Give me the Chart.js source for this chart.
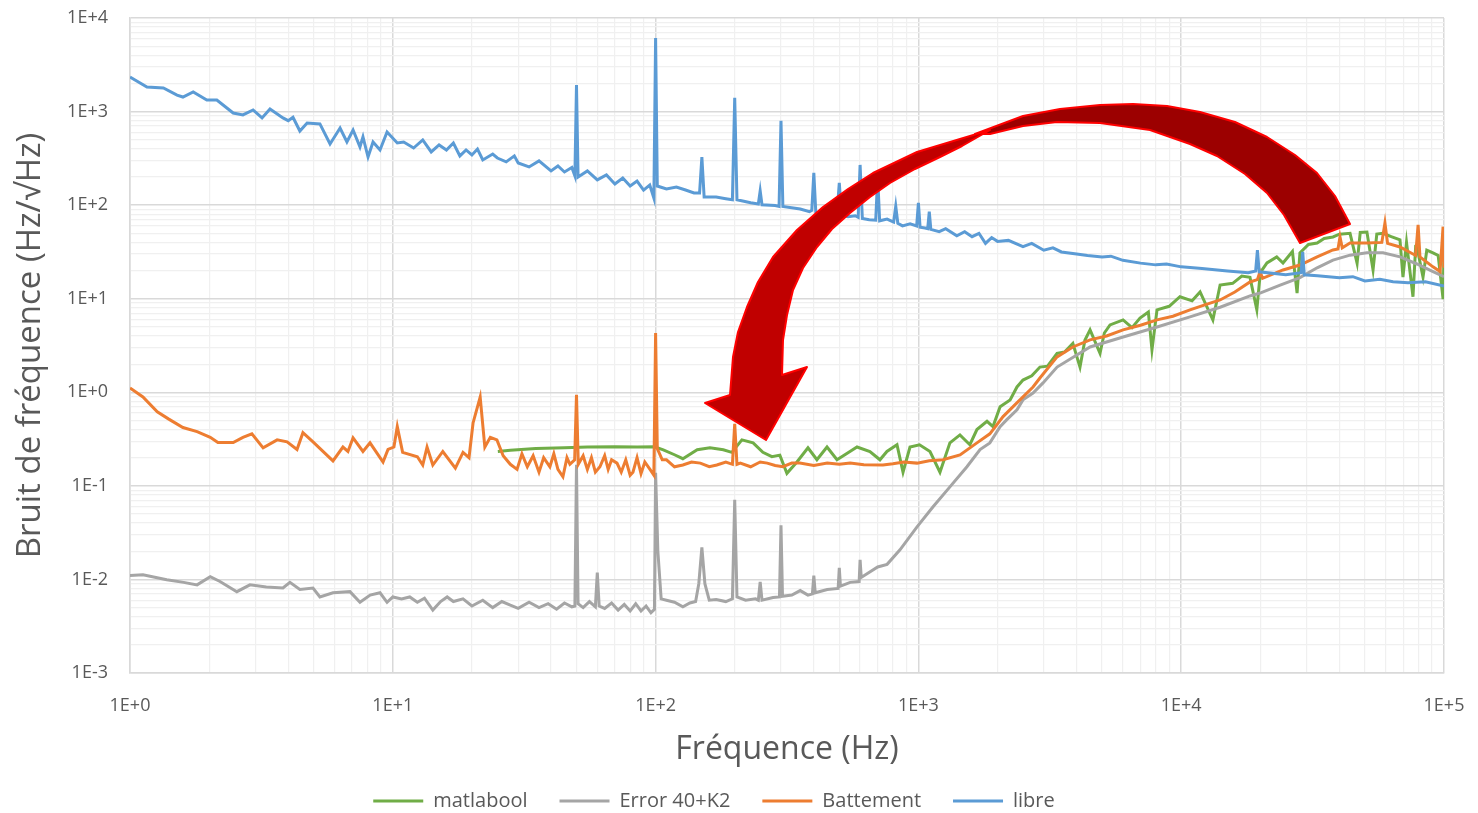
<!DOCTYPE html>
<html>
<head>
<meta charset="utf-8">
<script src="https://cdn.jsdelivr.net/npm/chart.js@4.4.1/dist/chart.umd.min.js"></script>
<style>
  html, body { margin: 0; padding: 0; background: #fff; overflow: hidden; }
  canvas { display: block; }
</style>
</head>
<body>
<canvas id="noise" width="1478" height="813"></canvas>
<script>
// Frequency noise spectra, values as [frequency Hz, noise]

const xTickLabels = ['1E+0', '1E+1', '1E+2', '1E+3', '1E+4', '1E+5'];
const yTickLabels = ['1E-3', '1E-2', '1E-1', '1E+0', '1E+1', '1E+2', '1E+3', '1E+4'];
const seriesNames = ['matlabool', 'Error 40+K2', 'Battement', 'libre'];
const seriesColors = ['#70AD47', '#A5A5A5', '#ED7D31', '#5B9BD5'];

const matlabool = [
  [25.1, 0.233], [28, 0.24], [35, 0.25], [45, 0.255], [55, 0.26], [70, 0.262], [85, 0.26], [99, 0.262],
  [107, 0.243], [118, 0.215], [127, 0.195], [144, 0.243], [161, 0.255], [181, 0.243], [195, 0.228],
  [213, 0.31], [235, 0.288], [256, 0.228], [277, 0.205], [297, 0.213], [316, 0.136], [345, 0.18],
  [380, 0.255], [411, 0.19], [449, 0.26], [490, 0.19], [549, 0.233], [584, 0.26], [654, 0.233],
  [714, 0.19], [759, 0.233], [829, 0.275], [874, 0.14], [929, 0.26], [1010, 0.275], [1107, 0.233],
  [1208, 0.14], [1318, 0.288], [1439, 0.35], [1570, 0.275], [1670, 0.40], [1824, 0.49], [1922, 0.43],
  [2046, 0.70], [2233, 0.83], [2372, 1.14], [2500, 1.35], [2700, 1.5], [2900, 1.86], [3100, 1.9],
  [3370, 2.61], [3600, 2.7], [3870, 3.34], [4120, 1.86], [4300, 3.6], [4500, 4.64], [4910, 2.61],
  [5100, 4.3], [5360, 5.25], [6010, 5.94], [6500, 4.9], [6970, 6.2], [7500, 7.2], [7740, 2.84],
  [8090, 7.6], [9000, 8.3], [9890, 10.5], [11000, 9.5], [11800, 11.8], [13200, 5.94], [14060, 14],
  [15700, 14.6], [17000, 17.5], [18270, 16.9], [19400, 7.6], [20000, 19], [21200, 24.1], [23100, 28],
  [24400, 24.1], [26500, 32], [27600, 11.5], [28300, 30.9], [30500, 38], [32900, 39.4], [35000, 44],
  [37800, 45.7], [40000, 49], [43900, 50], [46700, 24], [48000, 51], [50900, 51.5], [53700, 20.3],
  [55500, 49], [58600, 50], [63000, 46], [68000, 42.6], [69800, 17], [72000, 40], [76200, 10.5],
  [78000, 36], [78900, 35.7], [83200, 17], [86000, 33], [90800, 30.9], [95000, 29], [99200, 9.9],
  [100000, 33]
];

const error40K2 = [
  [1, 0.011], [1.12, 0.0112], [1.38, 0.0099], [1.6, 0.0093], [1.8, 0.00875], [2.02, 0.0107], [2.2, 0.0095],
  [2.55, 0.0074], [2.86, 0.00875], [3.3, 0.0083], [3.82, 0.0081], [4.06, 0.0093], [4.43, 0.0078],
  [4.97, 0.0081], [5.28, 0.0065], [5.92, 0.0072], [6.87, 0.0074], [7.5, 0.0057], [8.2, 0.0068],
  [8.94, 0.0072], [9.51, 0.0057], [10, 0.0065], [10.8, 0.0062], [11.6, 0.0065], [12.4, 0.0057],
  [13.2, 0.0063], [14.2, 0.0047], [15.2, 0.0058], [16.1, 0.0065], [17, 0.0058], [18.5, 0.0062],
  [20, 0.0052], [22, 0.006], [24, 0.005], [26, 0.0058], [28, 0.0053], [30, 0.0049], [33, 0.0057],
  [36, 0.005], [39, 0.0055], [42, 0.0048], [45, 0.0056], [48, 0.0051], [49.3, 0.0052], [50, 0.168],
  [50.7, 0.0055], [53, 0.005], [56, 0.0058], [59, 0.0051], [60, 0.0118], [61, 0.0052], [64, 0.0049],
  [68, 0.0056], [72, 0.0047], [76, 0.0054], [80, 0.0046], [84, 0.0055], [88, 0.0046], [92, 0.0052],
  [96, 0.0044], [99, 0.0048], [100, 0.138], [102, 0.02], [105, 0.0062], [110, 0.006], [118, 0.0057],
  [127, 0.0051], [135, 0.0056], [142, 0.0058], [146, 0.009], [150, 0.022], [154, 0.009], [160, 0.006],
  [170, 0.0061], [185, 0.0058], [196, 0.0062], [200, 0.071], [204, 0.0065], [220, 0.006], [240, 0.0062],
  [246, 0.006], [250, 0.0094], [254, 0.006], [280, 0.0064], [296, 0.0065], [300, 0.038], [304, 0.0066],
  [330, 0.0068], [355, 0.0076], [380, 0.0068], [395, 0.007], [400, 0.011], [405, 0.0072], [450, 0.0078],
  [495, 0.008], [500, 0.0133], [505, 0.0085], [550, 0.0093], [595, 0.0095], [600, 0.0162], [606, 0.0105],
  [700, 0.0136], [760, 0.0145], [851, 0.0207], [988, 0.0365], [1137, 0.0597], [1318, 0.0976],
  [1530, 0.16], [1716, 0.244], [1870, 0.288], [2046, 0.43], [2170, 0.51], [2372, 0.65], [2500, 0.83],
  [2730, 0.98], [2980, 1.26], [3370, 1.86], [4500, 3.05], [6010, 3.9], [8090, 4.98], [10800, 6.4],
  [14060, 8.1], [18270, 10.7], [19950, 11.5], [23800, 14], [28300, 16.8], [32900, 21.4], [37800, 25.9],
  [43900, 29.2], [50900, 30.9], [58600, 30.9], [68000, 28], [78900, 23.5], [90800, 19.5], [100000, 17.2]
];

const battement = [
  [1, 1.11], [1.12, 0.89], [1.27, 0.62], [1.4, 0.52], [1.59, 0.42], [1.8, 0.38], [2.02, 0.33], [2.16, 0.29],
  [2.47, 0.29], [2.69, 0.33], [2.91, 0.36], [3.21, 0.255], [3.63, 0.31], [3.96, 0.295], [4.32, 0.245],
  [4.55, 0.37], [4.97, 0.295], [5.92, 0.185], [6.46, 0.26], [6.75, 0.233], [7.06, 0.326], [7.7, 0.233],
  [8.19, 0.288], [9.18, 0.18], [9.59, 0.245], [10.1, 0.26], [10.4, 0.43], [10.9, 0.228], [12.4, 0.205],
  [13, 0.167], [13.5, 0.26], [14.2, 0.167], [15.5, 0.233], [17.3, 0.155], [18.5, 0.228], [19.5, 0.2],
  [20.2, 0.47], [21.5, 0.89], [22.4, 0.26], [23.5, 0.33], [24.9, 0.31], [26.3, 0.21], [28, 0.17],
  [29.7, 0.15], [31, 0.22], [32.5, 0.16], [34.2, 0.21], [36, 0.14], [37.5, 0.2], [39.6, 0.16], [41, 0.22],
  [42.5, 0.15], [44.4, 0.125], [46, 0.2], [47.2, 0.17], [49.2, 0.19], [50, 0.94], [50.8, 0.17], [53, 0.21],
  [55, 0.15], [57, 0.2], [59, 0.14], [61.4, 0.16], [64, 0.21], [66, 0.15], [68, 0.19], [71.3, 0.175],
  [74, 0.14], [77, 0.19], [80, 0.13], [82, 0.14], [85, 0.2], [88, 0.135], [91, 0.18], [95.2, 0.15],
  [98.5, 0.13], [100, 4.3], [101.5, 0.25], [106, 0.19], [110, 0.19], [118, 0.16], [127, 0.167], [137, 0.18],
  [148, 0.175], [160, 0.16], [171, 0.167], [185, 0.18], [196, 0.17], [200, 0.46], [204, 0.17], [210, 0.175],
  [230, 0.16], [250, 0.18], [266, 0.175], [285, 0.165], [305, 0.16], [330, 0.175], [354, 0.175],
  [400, 0.165], [450, 0.175], [500, 0.17], [550, 0.175], [620, 0.168], [733, 0.167], [800, 0.172],
  [880, 0.18], [988, 0.175], [1100, 0.185], [1240, 0.19], [1440, 0.214], [1670, 0.288], [1870, 0.36],
  [2100, 0.55], [2370, 0.77], [2730, 1.14], [2900, 1.42], [3370, 2.39], [3870, 3.05], [4500, 3.63],
  [5200, 4.0], [6010, 4.64], [7000, 5.2], [8090, 5.94], [9300, 6.5], [10800, 7.6], [12300, 8.6],
  [14060, 9.7], [16000, 11.8], [18270, 15.1], [19500, 16], [19950, 19.5], [20400, 16.5], [24400, 20.3],
  [28300, 22.9], [32900, 28], [37800, 33.2], [39500, 34], [40200, 45.7], [41000, 35], [43900, 39.4],
  [50900, 39.4], [58000, 40], [59600, 64.5], [61000, 39], [68000, 35.7], [78000, 29], [79700, 61.6],
  [81000, 28], [90800, 21.9], [96600, 19.5], [99200, 58.8], [100000, 21.4]
];

const libre = [
  [1, 2340], [1.16, 1830], [1.34, 1790], [1.51, 1500], [1.59, 1430], [1.74, 1620], [1.96, 1330], [2.14, 1330],
  [2.47, 966], [2.69, 920], [2.94, 1040], [3.18, 855], [3.41, 1066], [3.82, 855], [4.0, 800], [4.17, 870],
  [4.43, 620], [4.72, 755], [5.28, 738], [5.77, 451], [6.3, 668], [6.69, 473], [7.06, 635], [7.5, 419],
  [7.7, 536], [8.05, 327], [8.41, 473], [8.94, 389], [9.51, 605], [10.4, 462], [11, 473], [12, 408],
  [13, 498], [14, 370], [15, 440], [16, 389], [17, 462], [18, 336], [19, 389], [20, 344], [21, 398],
  [22, 304], [24, 352], [25, 319], [27, 290], [29, 336], [30, 282], [33, 256], [36, 297], [40, 232],
  [42.5, 262], [45, 226], [48, 252], [49.3, 205], [50, 1920], [50.7, 200], [55, 232], [60, 186], [65, 210],
  [70, 168], [75, 195], [80, 160], [85, 181], [90, 145], [95, 164], [98.5, 119], [100, 6100], [101.5, 160],
  [110, 149], [120, 156], [130, 145], [140, 135], [147, 135], [150, 327], [153, 122], [170, 122],
  [185, 117], [196, 114], [200, 1400], [204, 114], [230, 106], [246, 103], [250, 142], [254, 101],
  [285, 99], [295, 97], [300, 795], [305, 97], [355, 91], [385, 85], [393, 88], [400, 221], [407, 84],
  [440, 80], [470, 83], [490, 80], [500, 173], [510, 78], [540, 75], [575, 77], [590, 74], [600, 269],
  [612, 72], [650, 70], [688, 69], [700, 200], [712, 68], [760, 71], [805, 66], [820, 97], [835, 64],
  [870, 60], [930, 63], [985, 60], [1000, 106], [1015, 58], [1060, 57], [1085, 56], [1100, 85], [1115, 55],
  [1200, 52], [1270, 56], [1400, 47], [1500, 52], [1600, 46], [1700, 50], [1800, 39], [1900, 45],
  [2000, 41], [2200, 42], [2500, 36], [2700, 39], [3000, 33], [3250, 35], [3500, 31.6], [4000, 30],
  [4400, 29], [5000, 28], [5400, 28.5], [6000, 25.7], [7000, 24], [8000, 23], [8800, 23.5], [10000, 21.9],
  [12000, 21], [15000, 19.8], [18000, 19], [19200, 19.8], [19500, 33], [19800, 19.4], [25000, 18],
  [28600, 19], [29000, 31.6], [29400, 18], [33000, 17.6], [40000, 16.8], [45000, 17.2], [50000, 15.5],
  [57000, 16.1], [64000, 15.2], [73000, 14.8], [85000, 15.2], [100000, 13.7]
];

// Curved arrow, traced on the 1314 x 655 plot frame (left 130, top 18)
const arrowBack = [[975,134],[1023,116],[1060,109],[1100,105],[1133,104],[1167,106],[1200,112],[1235,122],
  [1267,137],[1295,155],[1317,173],[1335,196],[1350,224],[1300,243],[1284,215],[1267,193],[1245,174],
  [1217,156],[1190,144],[1150,130],[1100,123],[1057,122],[1023,126],[990,134]];
const arrowFront = [[990,130],[960,139],[917,152],[873,173],[848,189],[823,207],[797,230],[773,257],
  [758,282],[747,307],[738,332],[733,357],[730,395],[705,403],[766,440],[807,367],[782,375],[783,340],
  [787,315],[793,290],[803,268],[817,247],[832,229],[850,213],[870,197],[890,183],[915,169],[940,157],[962,146]];

const FONT = "'Open Sans', sans-serif";
const TEXT = '#595959';

const isDecade = (v) => Math.abs(Math.log10(v) - Math.round(Math.log10(v))) < 1e-6;

// 1..9 x 10^e for every decade, so each minor grid line is drawn
const logTicks = (lo, hi) => {
  const t = [];
  for (let e = lo; e < hi; e++) {
    for (let m = 1; m < 10; m++) t.push({ value: Number((m * Math.pow(10, e)).toPrecision(3)) });
  }
  t.push({ value: Math.pow(10, hi) });
  return t;
};

const gridStyle = {
  color: (c) => (c.tick && isDecade(c.tick.value) ? '#D9D9D9' : '#F0F0F0'),
  lineWidth: (c) => (c.tick && isDecade(c.tick.value) ? 1.5 : 1.2),
  drawTicks: false
};

const arrowPlugin = {
  id: 'arrow',
  afterDraw(chart) {
    const { ctx, chartArea: a } = chart;
    const pt = ([px, py]) => [a.left + (px - 130) / 1314 * a.width, a.top + (py - 18) / 655 * a.height];
    const shape = (pts, fill) => {
      ctx.beginPath();
      pts.forEach((p, i) => {
        const [x, y] = pt(p);
        if (i === 0) ctx.moveTo(x, y); else ctx.lineTo(x, y);
      });
      ctx.closePath();
      ctx.fillStyle = fill;
      ctx.fill();
      ctx.lineWidth = 2;
      ctx.strokeStyle = '#FF0000';
      ctx.stroke();
    };
    ctx.save();
    ctx.lineJoin = 'round';
    shape(arrowBack, '#9C0000');
    shape(arrowFront, '#C00000');
    ctx.restore();
  }
};

// legend row sits a little lower and further left than chart.js places it
const legendNudge = {
  id: 'legendNudge',
  afterLayout(chart) {
    chart.legend.top += 8;
    chart.legend.bottom += 8;
    chart.legend.left -= 12;
    chart.legend.right -= 12;
  }
};

const allSeries = [matlabool, error40K2, battement, libre];
const datasets = allSeries.map((s, i) => ({
  label: seriesNames[i],
  data: s.map(([f, v]) => ({ x: f, y: v })),
  borderColor: seriesColors[i],
  backgroundColor: seriesColors[i],
  borderWidth: 3,
  pointRadius: 0,
  tension: 0,
  // last series drawn on top, like the original
  order: allSeries.length - 1 - i
}));

new Chart(document.getElementById('noise'), {
  type: 'line',
  data: { datasets },
  options: {
    responsive: false,
    animation: false,
    devicePixelRatio: 1,
    layout: { padding: { left: 8, right: 34, top: 18, bottom: 0 } },
    plugins: {
      tooltip: { enabled: false },
      legend: {
        position: 'bottom',
        reverse: true,
        labels: {
          font: { family: FONT, size: 20 },
          color: TEXT,
          boxWidth: 50,
          boxHeight: 3,
          padding: 32,
          generateLabels: (chart) => Chart.defaults.plugins.legend.labels.generateLabels(chart)
            .map((item) => ({ ...item, lineWidth: 0, fillStyle: item.strokeStyle }))
        }
      }
    },
    scales: {
      x: {
        type: 'logarithmic',
        min: 1,
        max: 100000,
        afterBuildTicks: (scale) => { scale.ticks = logTicks(0, 5); },
        afterFit: (scale) => {
          scale.height = 78;
          scale.paddingLeft = 0;
          scale.paddingRight = 0;
        },
        ticks: {
          autoSkip: false,
          maxRotation: 0,
          padding: 22,
          font: { family: FONT, size: 18 },
          color: TEXT,
          callback: (v) => (isDecade(v) ? xTickLabels[Math.round(Math.log10(v))] : '')
        },
        grid: gridStyle,
        border: { color: '#D9D9D9', width: 1.5 },
        title: {
          display: true,
          text: 'Fréquence (Hz)',
          color: TEXT,
          font: { family: FONT, size: 32 },
          padding: { top: 0, bottom: -18 }
        }
      },
      y: {
        type: 'logarithmic',
        min: 0.001,
        max: 10000,
        afterBuildTicks: (scale) => { scale.ticks = logTicks(-3, 4); },
        afterFit: (scale) => {
          scale.width = 122;
          scale.paddingTop = 0;
          scale.paddingBottom = 0;
        },
        ticks: {
          autoSkip: false,
          padding: 22,
          font: { family: FONT, size: 18 },
          color: TEXT,
          callback: (v) => (isDecade(v) ? yTickLabels[Math.round(Math.log10(v)) + 3] : '')
        },
        grid: gridStyle,
        border: { color: '#D9D9D9', width: 1.5 },
        title: {
          display: true,
          text: 'Bruit de fréquence (Hz/√Hz)',
          color: TEXT,
          font: { family: FONT, size: 33 },
          padding: { top: 3, bottom: 0 }
        }
      }
    }
  },
  plugins: [arrowPlugin, legendNudge]
});
</script>
</body>
</html>
